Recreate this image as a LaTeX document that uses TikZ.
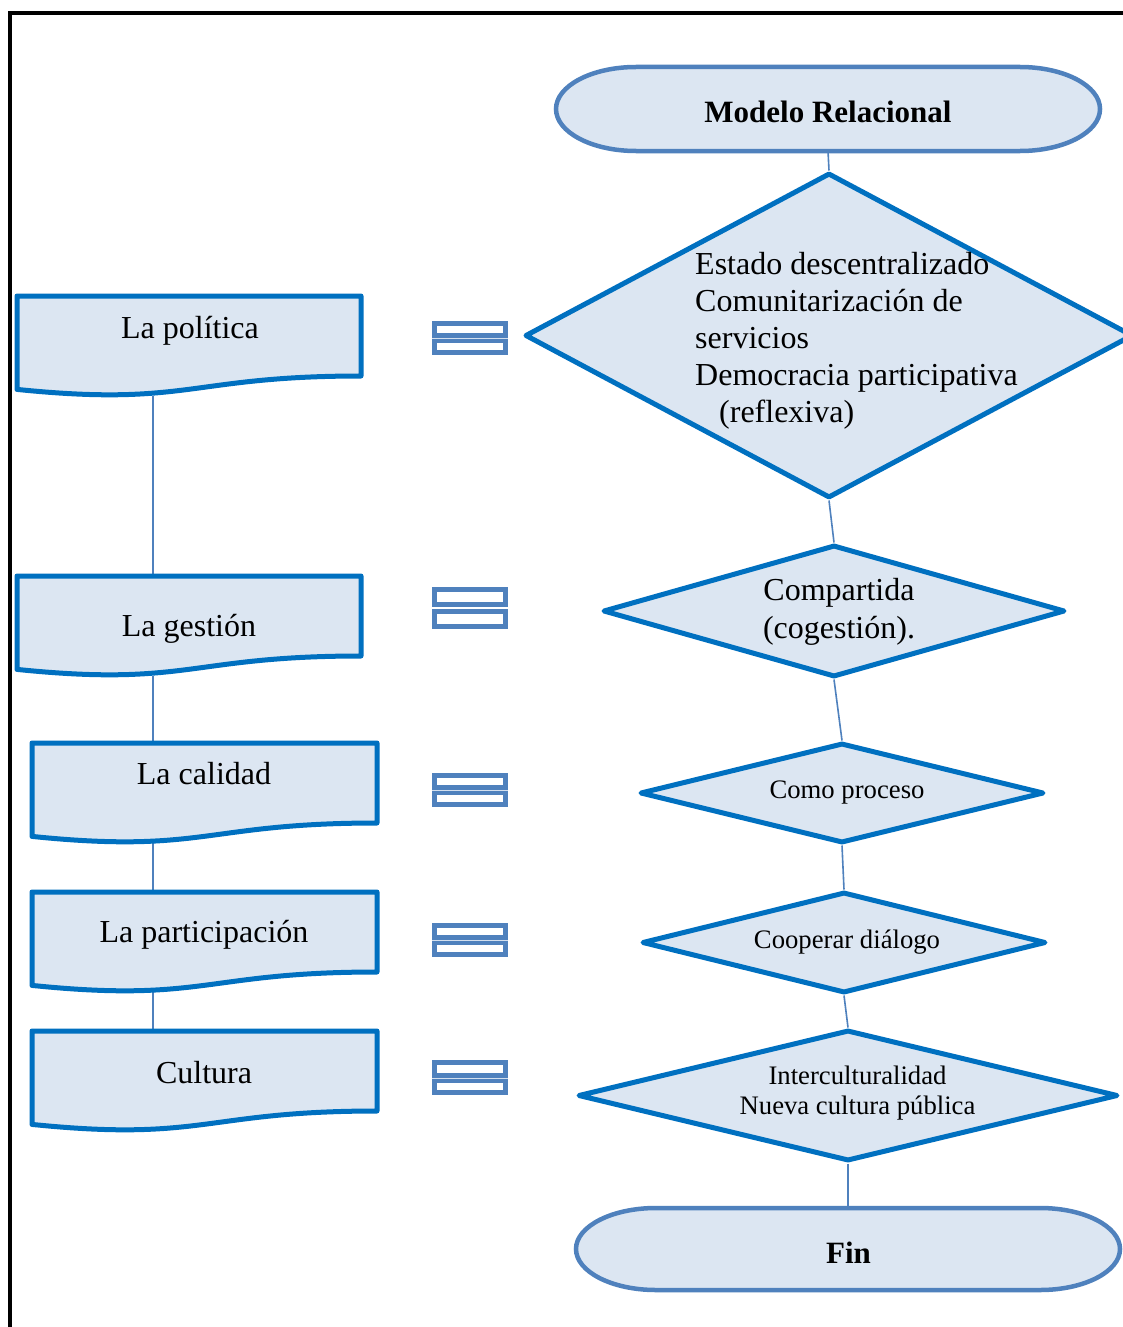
\documentclass[tikz,border=0pt]{standalone}
\usepackage{fontspec}
\setmainfont{Liberation Serif}
\usetikzlibrary{shapes.geometric}
\definecolor{fillblue}{HTML}{DCE6F2}
\definecolor{strokeblue}{HTML}{0070C0}
\definecolor{termblue}{HTML}{4F81BD}
\pgfdeclarelayer{paper}
\pgfdeclarelayer{background}
\pgfsetlayers{paper,background,main}
\newcommand{\docbox}[4]{%
  \path[docline] (#1,#3) -- (#2,#3) -- (#2,{#3+80})
    .. controls ({(#1+#2)/2},{#3+80}) and ({(#1+#2)/2},{#3+111}) .. (#1,{#3+93.4}) -- cycle;
  \node[shapebox, minimum width={#2-#1}, minimum height=100] (#4) at ({(#1+#2)/2},{#3+50}) {};
}
\newcommand{\termshape}[5]{%
  \path[termline] ({#1-#3+80},{#2-#4}) -- ({#1+#3-80},{#2-#4})
    .. controls ({#1+#3-35.8},{#2-#4}) and ({#1+#3},{#2-0.552*#4}) .. ({#1+#3},#2)
    .. controls ({#1+#3},{#2+0.552*#4}) and ({#1+#3-35.8},{#2+#4}) .. ({#1+#3-80},{#2+#4})
    -- ({#1-#3+80},{#2+#4})
    .. controls ({#1-#3+35.8},{#2+#4}) and ({#1-#3},{#2+0.552*#4}) .. ({#1-#3},#2)
    .. controls ({#1-#3},{#2-0.552*#4}) and ({#1-#3+35.8},{#2-#4}) .. ({#1-#3+80},{#2-#4}) -- cycle;
  \node[shapebox, minimum width={2*#3}, minimum height={2*#4}] (#5) at (#1,#2) {};
}
\newcommand{\eqbar}[2]{%
  \draw[eqline] (434.5,{#1+2.5}) rectangle (505.5,{#2-2.5});
}
\begin{document}
\begin{tikzpicture}[x=1pt,y=-1pt,
  dia/.style={diamond, draw=strokeblue, fill=fillblue, line width=5pt, line join=round, inner sep=0pt},
  shapebox/.style={rectangle, inner sep=0pt, outer sep=0pt, draw=none},
  bigtxt/.style={font=\fontsize{32}{37}\selectfont, inner sep=0pt},
  smalltxt/.style={font=\fontsize{26.7}{30}\selectfont, inner sep=0pt},
  boldtxt/.style={font=\fontsize{31}{36}\selectfont\bfseries, inner sep=0pt},
  conn/.style={draw=termblue, line width=1.6pt},
  docline/.style={draw=strokeblue, fill=fillblue, line width=5pt, line join=round},
  termline/.style={draw=termblue, fill=fillblue, line width=4.5pt},
  eqline/.style={draw=termblue, line width=5pt},
]
\useasboundingbox (0,0) rectangle (1122,1327);
\begin{pgfonlayer}{paper}
\fill[white] (0,0) rectangle (1122,1327);
\end{pgfonlayer}
% frame
\draw[line width=4.5pt] (10,1345) -- (10,13) -- (1145,13);

% left column
\docbox{17}{361}{296}{pol}
\docbox{17}{361}{576}{ges}
\docbox{32}{377}{743}{cal}
\docbox{32}{377}{892}{par}
\docbox{32}{377}{1031}{cul}
\node[bigtxt, anchor=base] (polt) at (190,338) {La política};
\node[bigtxt, anchor=base] (gest) at (189,636) {La gestión};
\node[bigtxt, anchor=base] (calt) at (204,784) {La calidad};
\node[bigtxt, anchor=base] (part) at (204,942) {La participación};
\node[bigtxt, anchor=base] (cult) at (204,1083) {Cultura};
\coordinate (polb) at (153,396);
\coordinate (gesa) at (153,576);
\coordinate (gesb) at (153,676);
\coordinate (cala) at (153,743);
\coordinate (calb) at (153,842);
\coordinate (para) at (153,892);
\coordinate (parb) at (153,992);
\coordinate (cula) at (153,1031);

% equal signs
\eqbar{321}{338}\eqbar{338}{355}
\eqbar{587}{607}\eqbar{609}{629}
\eqbar{773}{790}\eqbar{790}{807}
\eqbar{923}{940}\eqbar{940}{957}
\eqbar{1060}{1078}\eqbar{1078}{1095}
\draw[white!75!termblue, line width=0.8pt] (432,338) -- (508,338) (432,790) -- (508,790)
  (432,940) -- (508,940) (432,1078) -- (508,1078);

% right column
\termshape{828}{109}{272}{42}{mr}
\node[boldtxt, anchor=base] (mrt) at (828,122) {Modelo Relacional};
\node[dia, minimum width=608, minimum height=325] (d1) at (829,335.5) {};
\node[bigtxt, align=left, anchor=west] (d1t) at (695,341) {Estado descentralizado\\Comunitarización de\\servicios\\Democracia participativa\\\hspace*{24pt}(reflexiva)};
\node[dia, minimum width=462, minimum height=132] (d2) at (834,611) {};
\node[bigtxt, align=center, font=\fontsize{32}{38}\selectfont] (d2t) at (839,611.5) {Compartida\\(cogestión).};
\node[dia, minimum width=404, minimum height=100] (d3) at (842,793) {};
\node[smalltxt, anchor=base] (d3t) at (847,798) {Como proceso};
\node[dia, minimum width=404, minimum height=101] (d4) at (844,942.5) {};
\node[smalltxt, anchor=base] (d4t) at (847,948) {Cooperar diálogo};
\node[dia, minimum width=540, minimum height=131] (d5) at (848,1095.5) {};
\node[smalltxt, align=center] (d5t) at (857.5,1093) {Interculturalidad\\Nueva cultura pública};
\termshape{848}{1249}{272}{41}{fin}
\node[boldtxt, anchor=base] (fint) at (848.5,1263) {Fin};

\begin{pgfonlayer}{background}
\draw[conn] (polb) -- (gesa);
\draw[conn] (gesb) -- (cala);
\draw[conn] (calb) -- (para);
\draw[conn] (parb) -- (cula);
\draw[conn] (mr.south) -- (d1.north);
\draw[conn] (d1.south) -- (d2.north);
\draw[conn] (d2.south) -- (d3.north);
\draw[conn] (d3.south) -- (d4.north);
\draw[conn] (d4.south) -- (d5.north);
\draw[conn] (d5.south) -- (fin.north);
\end{pgfonlayer}
\end{tikzpicture}
\end{document}
